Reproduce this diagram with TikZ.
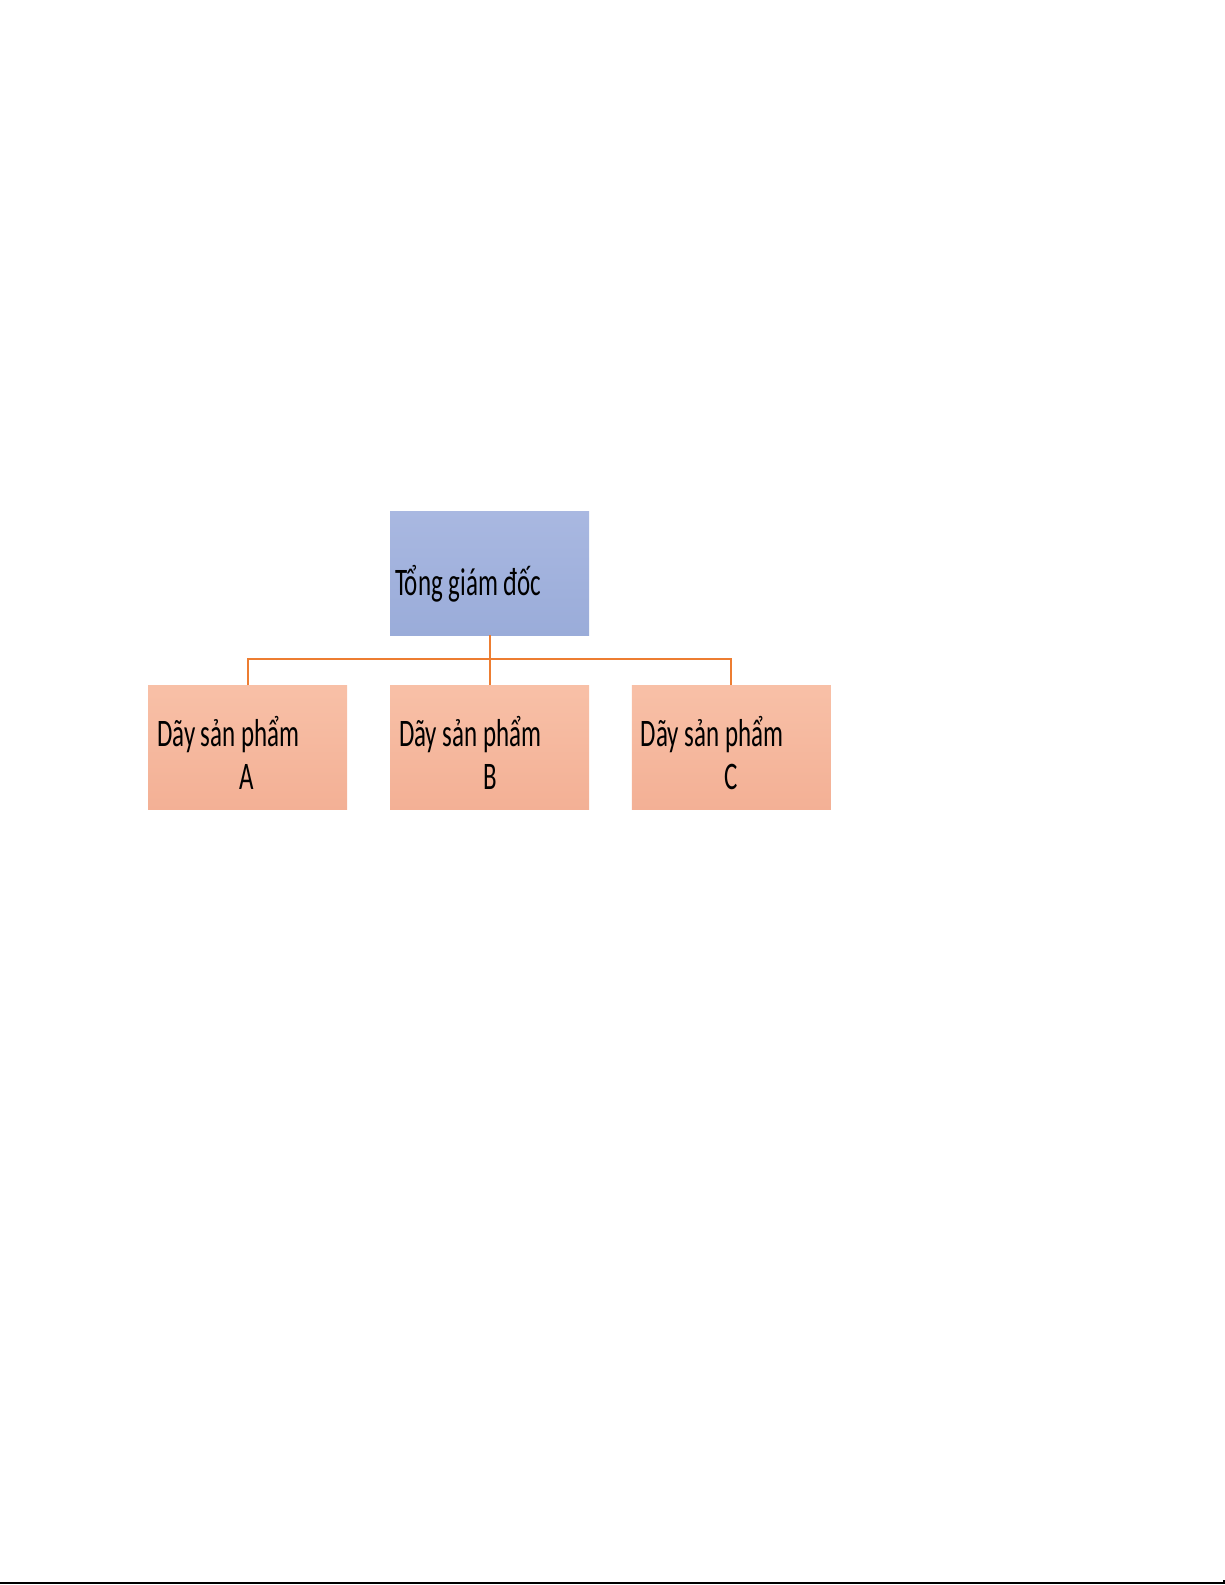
\documentclass[tikz,border=0pt]{standalone}
\usepackage{fontspec}
\newfontfamily\nhanfont[FakeStretch=0.64]{Carlito}
\usetikzlibrary{positioning}
\definecolor{xanhtren}{HTML}{A9B8E1}
\definecolor{xanhduoi}{HTML}{9AACD9}
\definecolor{camtren}{HTML}{F8C0A7}
\definecolor{camduoi}{HTML}{F3B095}
\definecolor{camdam}{HTML}{ED7D31}

\begin{document}
\begin{tikzpicture}[x=0.5pt, y=-0.5pt,
        director/.style={top color=xanhtren, bottom color=xanhduoi, minimum width=99.5pt, minimum height=62pt, text width=94.5pt, inner xsep=2.5pt, align=left, font=\nhanfont\fontsize{19.5}{21.5}\selectfont, execute at begin node={\spaceskip=0pt\rule{0pt}{26pt}}},
        dong/.style={top color=camtren, bottom color=camduoi, minimum width=99.5pt, minimum height=62pt, text width=90.5pt, inner xsep=4.5pt, align=left, font=\nhanfont\fontsize{19.5}{21.5}\selectfont, execute at begin node={\spaceskip=0pt\rule{0pt}{20.5pt}}},
        linea/.style={draw=camdam, line width=1pt}
    ]
    \useasboundingbox (0,0) rectangle (1225,1585);
    \node (tgd) [director] at (489.5,573) {Tổng giám đốc};
    \node (dayB) [dong, below=25pt of tgd] {Dãy sản phẩm\\\hspace*{42pt}B};
    \node (dayA) [dong, left=21pt of dayB] {Dãy sản phẩm\\\hspace*{41pt}A};
    \node (dayC) [dong, right=21pt of dayB] {Dãy sản phẩm\\\hspace*{42pt}C};

    \draw [linea] (tgd) -- (dayB);
    \draw [linea] (dayA.north) -- ++(0,-26) -| (dayC.north);

    % duong ke cuoi trang
    \draw [line width=1pt] (0,1583) -- (1224,1583) -- ++(0,-3);
\end{tikzpicture}
\end{document}
